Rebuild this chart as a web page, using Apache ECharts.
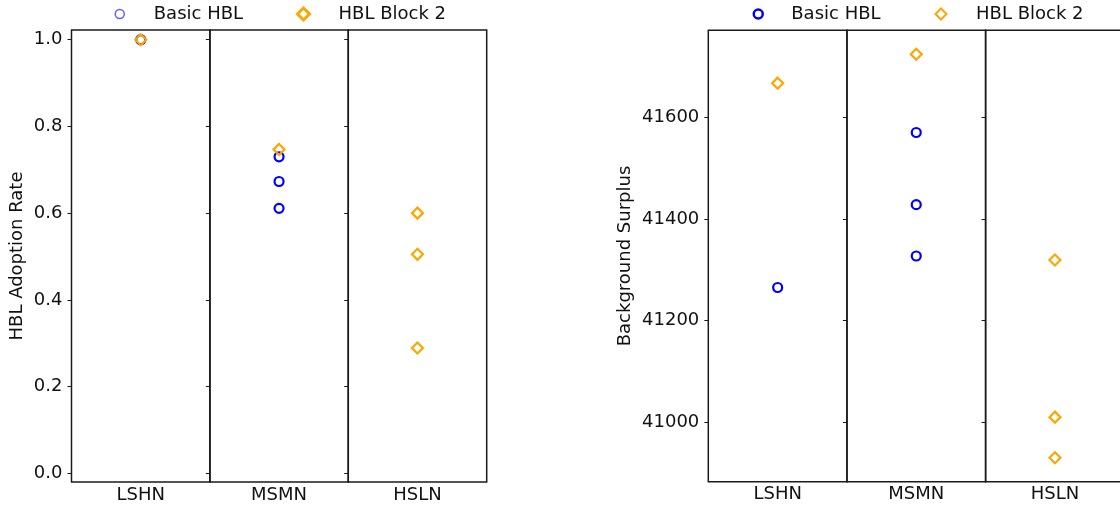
<!DOCTYPE html>
<html>
<head>
<meta charset="utf-8">
<title>HBL adoption and background surplus by network type</title>
<script src="https://cdn.jsdelivr.net/npm/echarts@6/dist/echarts.min.js"></script>
<style>
  html, body { margin: 0; padding: 0; background: #ffffff; }
  #chart { width: 1120px; height: 506px; }
</style>
</head>
<body>
<div id="chart"></div>
<script>
// Network types, one panel each
const categories = ['LSHN', 'MSMN', 'HSLN'];

// HBL adoption rate per network type
const adoptionBasic = [[1.0], [0.730, 0.673, 0.611], []];
const adoptionBlock2 = [[1.0], [0.747], [0.600, 0.505, 0.289]];

// Background surplus per network type
const surplusBasic = [[41265], [41570, 41428, 41327], []];
const surplusBlock2 = [[41667], [41724], [41319, 41010, 40930]];

// Tick values of the two value axes
const adoptionTicks = [0.0, 0.2, 0.4, 0.6, 0.8, 1.0];
const surplusTicks = [41000, 41200, 41400, 41600];

const FONT = 'DejaVu Sans';
const TEXT = '#111111';
const BLUE = '#0000ff';
const ORANGE = '#ffa500';

const basicStyle = { color: 'rgba(0,0,0,0)', borderColor: BLUE, borderWidth: 2.2, opacity: 1 };
const block2Style = { color: 'rgba(0,0,0,0)', borderColor: ORANGE, borderWidth: 2.2, opacity: 1 };

// panel layout of each figure; the last panel of the second figure runs past the page edge
const figures = [
  {
    lefts: [71.5, 209.8, 348.2], width: 138.5, top: 30, height: 452,
    min: -0.0201, max: 1.0224, ticks: adoptionTicks,
    fmt: v => Number(v).toFixed(1),
    name: 'HBL Adoption Rate', nameGap: 45,
    basic: adoptionBasic, block2: adoptionBlock2
  },
  {
    lefts: [708.3, 846.9, 985.6], width: 138.7, top: 30.3, height: 451.4,
    min: 40883, max: 41771, ticks: surplusTicks,
    fmt: v => String(Math.round(v)),
    name: 'Background Surplus', nameGap: 74,
    basic: surplusBasic, block2: surplusBlock2
  }
];

const grid = [], xAxis = [], yAxis = [], series = [];

figures.forEach(fig => {
  categories.forEach((cat, i) => {
    const idx = grid.length;
    grid.push({
      left: fig.lefts[i], top: fig.top, width: fig.width, height: fig.height,
      outerBoundsMode: 'none',
      show: true, borderColor: '#1a1a1a', borderWidth: 1.5,
      backgroundColor: 'transparent'
    });
    xAxis.push({
      type: 'category', gridIndex: idx, data: [cat], boundaryGap: true,
      axisLine: { show: false }, axisTick: { show: false }, splitLine: { show: false },
      axisLabel: { color: TEXT, fontFamily: FONT, fontSize: 18, margin: 4 }
    });
    yAxis.push({
      type: 'value', gridIndex: idx, min: fig.min, max: fig.max,
      name: i === 0 ? fig.name : '',
      nameLocation: 'middle', nameGap: fig.nameGap, nameRotate: 90,
      nameTextStyle: { color: TEXT, fontFamily: FONT, fontSize: 18 },
      axisLine: { show: false }, splitLine: { show: false },
      axisTick: {
        show: true, inside: false, length: 4,
        customValues: fig.ticks,
        lineStyle: { color: '#1a1a1a', width: 1 }
      },
      axisLabel: {
        show: i === 0, color: TEXT, fontFamily: FONT, fontSize: 18, margin: 9,
        customValues: fig.ticks, formatter: fig.fmt
      }
    });
    series.push({
      type: 'scatter', name: 'Basic HBL', xAxisIndex: idx, yAxisIndex: idx,
      symbol: 'circle', symbolSize: 9, itemStyle: basicStyle,
      emphasis: { disabled: true }, animation: false,
      data: fig.basic[i].map(v => [cat, v])
    });
    series.push({
      type: 'scatter', name: 'HBL Block 2', xAxisIndex: idx, yAxisIndex: idx,
      symbol: 'diamond', symbolSize: 11, itemStyle: block2Style,
      emphasis: { disabled: true }, animation: false,
      data: fig.block2[i].map(v => [cat, v])
    });
  });
});

// one legend entry per component so each sits at its own spot
function legendItem(name, icon, iconCenterX, textX, size, style) {
  return {
    show: true, data: [{ name: name, icon: icon, itemStyle: style }],
    left: iconCenterX - size / 2, top: 5, padding: 0,
    itemWidth: size, itemHeight: size, selectedMode: false,
    textStyle: {
      color: TEXT, fontFamily: FONT, fontSize: 18,
      padding: [0, 0, 0, textX - (iconCenterX + size / 2) - 5]
    }
  };
}

const legend = [
  legendItem('Basic HBL', 'circle', 119, 153, 9,
    { color: 'rgba(0,0,0,0)', borderColor: 'rgba(40,40,255,0.75)', borderWidth: 1.5, opacity: 1 }),
  legendItem('HBL Block 2', 'diamond', 302, 337, 12,
    { color: 'rgba(0,0,0,0)', borderColor: ORANGE, borderWidth: 3, opacity: 1 }),
  legendItem('Basic HBL', 'circle', 757, 790, 9,
    { color: 'rgba(0,0,0,0)', borderColor: BLUE, borderWidth: 2.5, opacity: 1 }),
  legendItem('HBL Block 2', 'diamond', 940, 975, 11,
    { color: 'rgba(0,0,0,0)', borderColor: ORANGE, borderWidth: 2, opacity: 1 })
];

const chart = echarts.init(document.getElementById('chart'), null, { renderer: 'canvas' });
chart.setOption({
  backgroundColor: '#ffffff',
  animation: false,
  legend: legend,
  grid: grid,
  xAxis: xAxis,
  yAxis: yAxis,
  series: series
});
</script>
</body>
</html>
